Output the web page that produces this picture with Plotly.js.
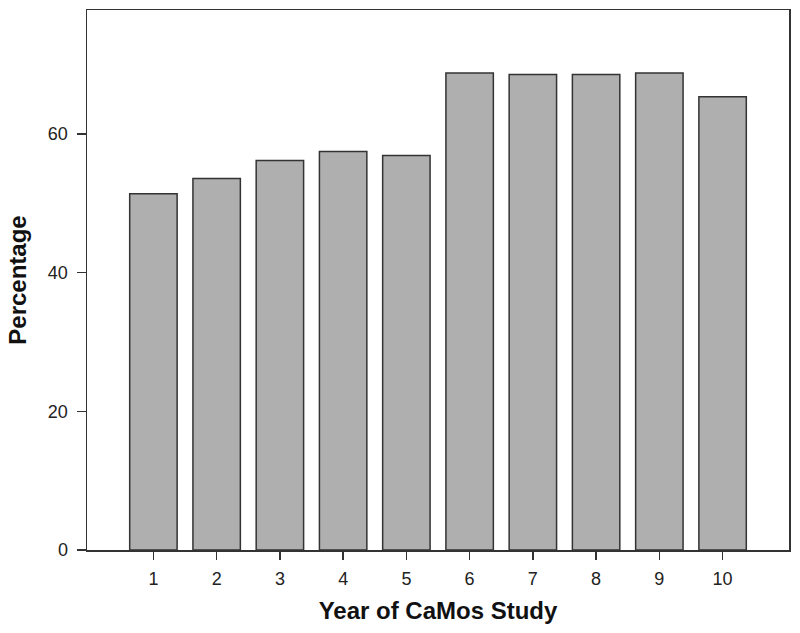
<!DOCTYPE html>
<html>
<head>
<meta charset="utf-8">
<script src="https://cdn.plot.ly/plotly-3.0.1.min.js"></script>
<style>html,body{margin:0;padding:0;background:#fff;}#chart{width:800px;height:633px;}</style>
</head>
<body>
<div id="chart"></div>
<script>
const years = [1, 2, 3, 4, 5, 6, 7, 8, 9, 10];
const percentages = [51.4, 53.6, 56.2, 57.5, 56.9, 68.8, 68.6, 68.6, 68.8, 65.4];
const yTickVals = [0, 20, 40, 60];
const yTickText = ["0", "20", "40", "60"];

const trace = {
  type: 'bar',
  x: years,
  y: percentages,
  width: 0.75,
  marker: { color: '#afafb0', line: { color: '#333333', width: 1.5 } },
  hoverinfo: 'x+y'
};

const layout = {
  width: 800, height: 633,
  margin: { l: 86.5, r: 10.7, t: 9.7, b: 83.3 },
  paper_bgcolor: '#ffffff', plot_bgcolor: '#ffffff',
  showlegend: false,
  font: { family: 'Liberation Sans, Arial, sans-serif', color: '#222' },
  xaxis: {
    range: [-0.05, 11.05],
    tickvals: years,
    ticktext: years.map(String),
    ticks: 'outside', ticklen: 8, tickwidth: 1.5, tickcolor: '#333',
    ticklabelstandoff: 4,
    showline: true, linecolor: '#333', linewidth: 1.5, mirror: true,
    showgrid: false, zeroline: false,
    tickfont: { size: 18, color: '#222' },
    title: { text: 'Year of CaMos Study', font: { size: 24, color: '#111', family: 'Liberation Sans, Arial, sans-serif', weight: 'bold' }, standoff: 14 }
  },
  yaxis: {
    range: [0, 77.9],
    tickvals: yTickVals,
    ticktext: yTickText,
    ticks: 'outside', ticklen: 9, tickwidth: 1.5, tickcolor: '#333',
    ticklabelstandoff: 5,
    showline: true, linecolor: '#333', linewidth: 1.5, mirror: true,
    showgrid: false, zeroline: false,
    tickfont: { size: 18, color: '#222' },
    title: { text: 'Percentage', font: { size: 24, color: '#111', family: 'Liberation Sans, Arial, sans-serif', weight: 'bold' }, standoff: 14 }
  }
};

Plotly.newPlot('chart', [trace], layout, { displayModeBar: false, staticPlot: true });
</script>
</body>
</html>
